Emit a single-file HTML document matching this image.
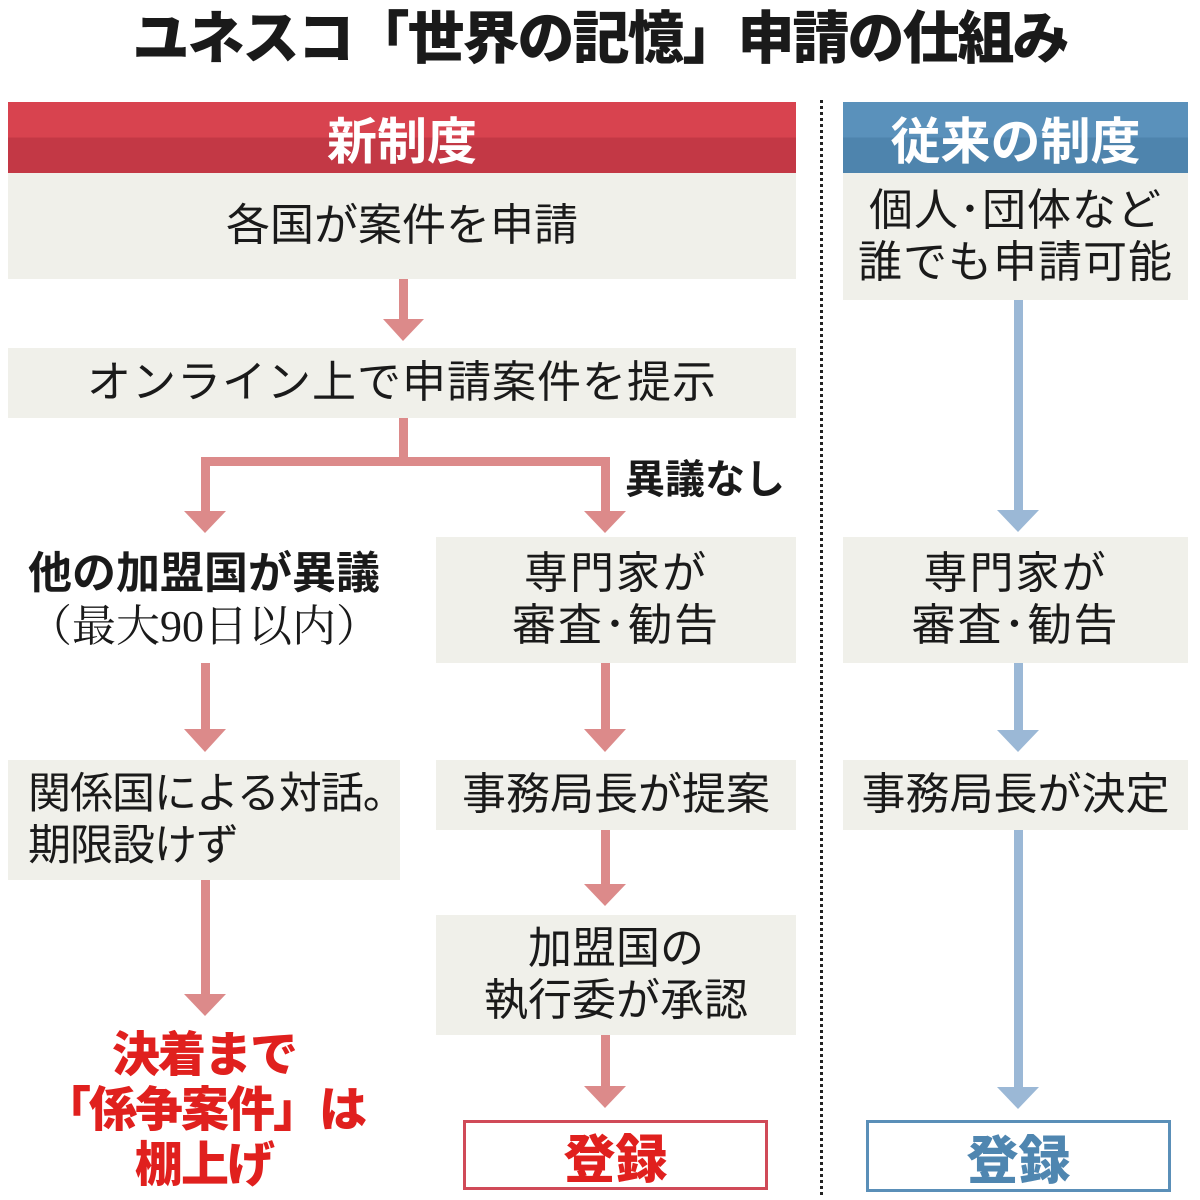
<!DOCTYPE html>
<html><head><meta charset="utf-8"><style>
body{margin:0;width:1200px;height:1200px;background:#fff;position:relative;overflow:hidden;font-family:"Liberation Sans","Noto Sans CJK JP",sans-serif;color:#1a1a1a}
.a{position:absolute}
.box{position:absolute;background:#f0f0ea;display:flex;align-items:center;justify-content:center;text-align:center;font-size:44px;line-height:52px;white-space:nowrap}
.hd{position:absolute;color:#fff;font-size:50px;font-weight:bold;display:flex;align-items:center;justify-content:center}
</style></head><body>
<div class="a" style="left:0;top:6px;width:1200px;text-align:center;font-size:57px;font-weight:900;line-height:66px;letter-spacing:-2px;white-space:nowrap">ユネスコ「世界の記憶」申請の仕組み</div>

<div class="hd" style="left:8px;top:102px;width:788px;height:71px;background:linear-gradient(#d8434f 0,#d8434f 50%,#c33845 50%,#c33845 100%)">新制度</div>
<div class="hd" style="left:843px;top:102px;width:345px;height:71px;background:linear-gradient(#5a91bb 0,#5a91bb 50%,#4e84ad 50%,#4e84ad 100%)">従来の制度</div>

<div class="a" style="left:820px;top:100px;height:1095px;border-left:3px dotted #222"></div>

<div class="box" style="left:8px;top:173px;width:788px;height:106px">各国が案件を申請</div>
<div class="box" style="left:8px;top:348px;width:788px;height:70px;letter-spacing:1px">オンライン上で申請案件を提示</div>
<div class="a" style="left:625px;top:455px;font-size:40px;font-weight:bold;line-height:50px">異議なし</div>
<div class="a" style="left:8px;top:548px;width:392px;text-align:center;font-size:44px;font-weight:bold;line-height:52px;white-space:nowrap">他の加盟国が異議</div>
<div class="a" style="left:8px;top:602px;width:392px;text-align:center;font-size:44px;line-height:50px;white-space:nowrap;font-family:'Liberation Serif','Noto Serif CJK SC',serif">（最大90日以内）</div>
<div class="box" style="left:436px;top:537px;width:360px;height:126px;letter-spacing:2px">専門家が<br>審査･勧告</div>
<div class="box" style="left:8px;top:760px;width:392px;height:120px;justify-content:flex-start;text-align:left;padding-left:20px;box-sizing:border-box;font-size:43px;letter-spacing:-1px">関係国による対話。<br>期限設けず</div>
<div class="box" style="left:436px;top:760px;width:360px;height:70px">事務局長が提案</div>
<div class="box" style="left:436px;top:915px;width:360px;height:120px">加盟国の<br>執行委が承認</div>
<div class="a" style="left:8px;top:1028px;width:392px;text-align:center;font-size:48px;font-weight:900;line-height:55px;color:#e0201e;white-space:nowrap;letter-spacing:-2px">決着まで<br>「係争案件」は<br>棚上げ</div>
<div class="a" style="left:463px;top:1120px;width:305px;height:70px;box-sizing:border-box;border:3px solid #d04a58;display:flex;align-items:center;justify-content:center;font-size:52px;font-weight:900;color:#e0201e">登録</div>

<div class="box" style="left:843px;top:173px;width:345px;height:127px;letter-spacing:1px">個人･団体など<br>誰でも申請可能</div>
<div class="box" style="left:843px;top:537px;width:345px;height:126px;letter-spacing:2px">専門家が<br>審査･勧告</div>
<div class="box" style="left:843px;top:760px;width:345px;height:70px">事務局長が決定</div>
<div class="a" style="left:866px;top:1120px;width:305px;height:72px;box-sizing:border-box;border:3px solid #5a8fb8;display:flex;align-items:center;justify-content:center;font-size:52px;font-weight:900;color:#4f86b0">登録</div>

<svg class="a" style="left:0;top:0" width="1200" height="1200">
<g fill="#dc8a8a">
<rect x="399" y="279" width="9" height="42"/><polygon points="383,319 424,319 403,341"/>
<rect x="399" y="418" width="9" height="48"/><rect x="201" y="457" width="409" height="9"/>
<rect x="201" y="457" width="9" height="56"/><polygon points="184,511 226,511 205,533"/>
<rect x="601" y="457" width="9" height="56"/><polygon points="584,511 626,511 605,533"/>
<rect x="201" y="663" width="9" height="67"/><polygon points="184,729 226,729 205,752"/>
<rect x="601" y="663" width="9" height="67"/><polygon points="584,729 626,729 605,752"/>
<rect x="201" y="880" width="9" height="115"/><polygon points="184,994 226,994 205,1016"/>
<rect x="601" y="830" width="9" height="55"/><polygon points="584,884 626,884 605,906"/>
<rect x="601" y="1035" width="9" height="52"/><polygon points="584,1086 626,1086 605,1108"/>
</g>
<g fill="#9bb8d6">
<rect x="1014" y="300" width="9" height="212"/><polygon points="997,510 1039,510 1018,532"/>
<rect x="1014" y="663" width="9" height="68"/><polygon points="997,730 1039,730 1018,752"/>
<rect x="1014" y="830" width="9" height="258"/><polygon points="997,1087 1039,1087 1018,1109"/>
</g>
</svg>
</body></html>
